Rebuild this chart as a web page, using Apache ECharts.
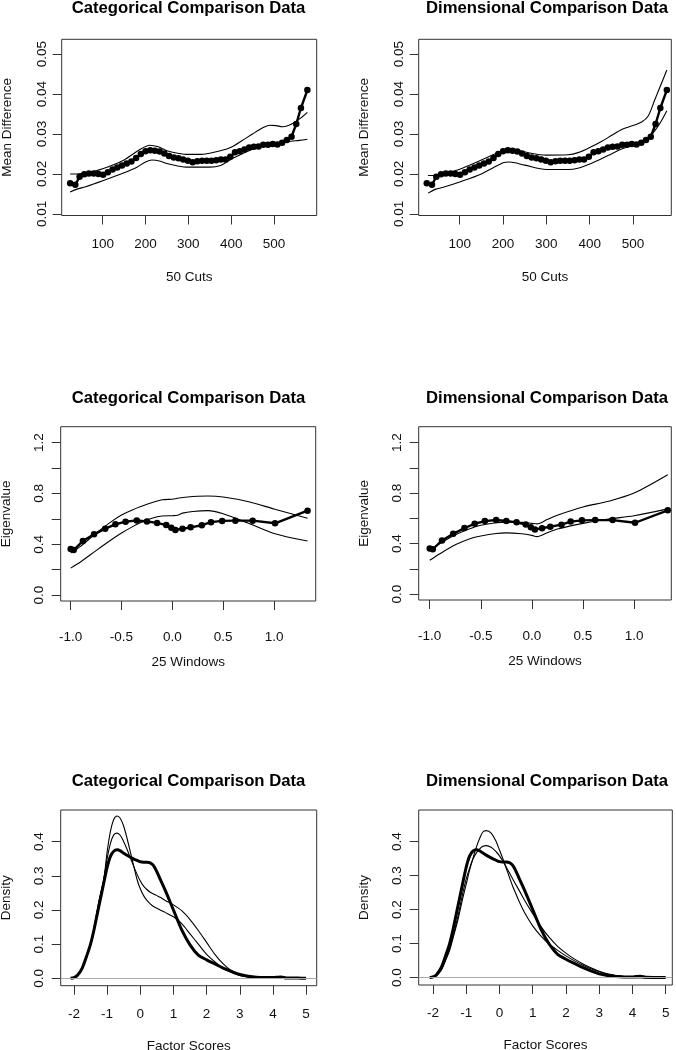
<!DOCTYPE html>
<html><head><meta charset="utf-8">
<script src="https://cdn.jsdelivr.net/npm/echarts@6/dist/echarts.min.js"></script>
<style>html,body{margin:0;padding:0;background:#fff}#c{width:676px;height:1050px}</style>
</head><body><div id="c"></div>
<script>
// ---------- Row 1: 50 Cuts / Mean Difference ----------
const cutX = [24,36,46,57,68,79,90,101,112,123,134,145,156,167,178,189,200,211,222,233,244,255,266,277,288,299,310,321,332,343,354,365,376,387,398,409,420,431,442,453,464,475,486,497,508,519,530,541,552,563,578];
const cutObs = [0.0177,0.0173,0.0193,0.0199,0.0201,0.0201,0.0200,0.0198,0.0204,0.0211,0.0216,0.0221,0.0226,0.0231,0.0240,0.0250,0.0257,0.0259,0.0258,0.0256,0.0251,0.0245,0.0241,0.0239,0.0236,0.0233,0.0229,0.0232,0.0233,0.0233,0.0233,0.0234,0.0236,0.0236,0.0243,0.0254,0.0257,0.0261,0.0266,0.0268,0.0269,0.0273,0.0273,0.0275,0.0274,0.0278,0.0285,0.0293,0.0325,0.0365,0.0410];
const catCutUpX = [24,40,60,100,150,185,210,230,250,275,300,325,350,375,400,425,450,475,490,505,520,535,550,565,578];
const catCutUp  = [0.0200,0.0200,0.0202,0.0213,0.0235,0.0260,0.0272,0.0268,0.0258,0.0252,0.0249,0.0249,0.0252,0.0258,0.0267,0.0283,0.0300,0.0316,0.0322,0.0321,0.0318,0.0322,0.0330,0.0342,0.0354];
const catCutLoX = [24,40,60,100,150,180,200,215,235,250,275,300,325,350,375,400,425,450,475,500,520,540,560,578];
const catCutLo  = [0.0155,0.0162,0.0168,0.0183,0.0203,0.0217,0.0230,0.0235,0.0232,0.0226,0.0220,0.0217,0.0217,0.0217,0.0221,0.0237,0.0250,0.0262,0.0270,0.0275,0.0279,0.0282,0.0284,0.0287];
const dimCutUpX = [27,45,60,100,150,200,220,250,300,350,375,400,425,450,475,500,520,535,550,565,578];
const dimCutUp  = [0.0196,0.0196,0.0200,0.0212,0.0235,0.0258,0.0262,0.0255,0.0247,0.0248,0.0254,0.0266,0.0280,0.0296,0.0312,0.0321,0.0330,0.0345,0.0385,0.0425,0.0460];
const dimCutLoX = [27,45,60,100,150,200,215,250,300,350,375,400,425,450,475,500,520,535,550,565,578];
const dimCutLo  = [0.0152,0.0162,0.0166,0.0180,0.0200,0.0228,0.0230,0.0222,0.0211,0.0211,0.0215,0.0225,0.0237,0.0250,0.0263,0.0272,0.0276,0.0290,0.0308,0.0332,0.0358];
const cutTicks = [100,200,300,400,500];
const cutTickLabels = ['100','200','300','400','500'];
const mdTicks = [0.01,0.02,0.03,0.04,0.05];
const mdTickLabels = ['0.01','0.02','0.03','0.04','0.05'];

// ---------- Row 2: 25 Windows / Eigenvalue ----------
const winX = [-1.00,-0.97,-0.88,-0.77,-0.66,-0.56,-0.46,-0.35,-0.25,-0.15,-0.06,-0.01,0.03,0.10,0.18,0.29,0.38,0.49,0.62,0.79,1.01,1.33];
const winObs = [0.362,0.355,0.425,0.478,0.523,0.557,0.578,0.587,0.579,0.568,0.551,0.530,0.512,0.522,0.533,0.550,0.574,0.584,0.586,0.586,0.565,0.664];
const catWinUpX = [-1.0,-0.9,-0.75,-0.6,-0.5,-0.4,-0.25,-0.1,0.0,0.05,0.15,0.25,0.35,0.5,0.75,1.0,1.33];
const catWinUp  = [0.330,0.385,0.487,0.578,0.630,0.668,0.715,0.750,0.755,0.762,0.772,0.778,0.780,0.772,0.735,0.678,0.605];
const catWinLoX = [-1.0,-0.9,-0.75,-0.6,-0.5,-0.4,-0.3,-0.2,-0.1,0.0,0.05,0.1,0.2,0.35,0.5,0.75,1.0,1.33];
const catWinLo  = [0.212,0.262,0.350,0.435,0.488,0.535,0.575,0.605,0.622,0.625,0.628,0.645,0.658,0.665,0.640,0.565,0.485,0.425];
const dimWinUpX = [-1.0,-0.9,-0.75,-0.6,-0.5,-0.35,-0.25,-0.1,0.0,0.05,0.15,0.25,0.5,0.75,1.0,1.33];
const dimWinUp  = [0.345,0.400,0.470,0.520,0.545,0.565,0.570,0.568,0.560,0.556,0.590,0.625,0.690,0.735,0.800,0.945];
const dimWinLoX = [-1.0,-0.9,-0.75,-0.6,-0.5,-0.35,-0.25,-0.1,0.0,0.05,0.15,0.25,0.5,0.75,1.0,1.33];
const dimWinLo  = [0.268,0.320,0.390,0.440,0.460,0.480,0.485,0.478,0.465,0.455,0.485,0.515,0.560,0.595,0.620,0.675];
const winTicks = [-1.0,-0.5,0.0,0.5,1.0];
const winTickLabels = ['-1.0','-0.5','0.0','0.5','1.0'];
const eigTicks = [0.0,0.2,0.4,0.6,0.8,1.0,1.2];
const eigLabelTicks = [0.0,0.4,0.8,1.2];
const eigTickLabels = ['0.0','0.4','0.8','1.2'];

// ---------- Row 3: Factor Scores / Density ----------
const densX = [-2.1,-2.0,-1.9,-1.75,-1.6,-1.5,-1.4,-1.25,-1.1,-1.0,-0.9,-0.8,-0.7,-0.6,-0.5,-0.4,-0.25,-0.1,0,0.1,0.2,0.3,0.4,0.5,0.6,0.75,1.0,1.25,1.5,1.75,2.0,2.25,2.5,2.75,3.0,3.25,3.5,3.75,4.0,4.1,4.25,4.4,4.75,5.0];
const densObs = [0,0.002,0.008,0.03,0.07,0.1,0.14,0.21,0.28,0.325,0.357,0.372,0.376,0.373,0.366,0.36,0.352,0.345,0.341,0.340,0.340,0.338,0.330,0.312,0.290,0.258,0.200,0.142,0.098,0.068,0.054,0.042,0.030,0.020,0.011,0.006,0.003,0.002,0.002,0.003,0.004,0.001,0.0005,0];
const catDensA = [0,0.002,0.008,0.03,0.068,0.1,0.145,0.225,0.29,0.37,0.43,0.465,0.475,0.468,0.445,0.41,0.35,0.29,0.262,0.242,0.228,0.218,0.21,0.205,0.2,0.193,0.18,0.16,0.13,0.1,0.07,0.048,0.03,0.017,0.008,0.004,0.002,0.001,0,0,0,0,0,0];
const catDensB = [0,0.002,0.008,0.03,0.068,0.1,0.145,0.22,0.29,0.35,0.395,0.42,0.425,0.418,0.4,0.378,0.34,0.305,0.285,0.27,0.26,0.252,0.247,0.242,0.237,0.228,0.215,0.198,0.172,0.14,0.105,0.07,0.042,0.022,0.011,0.005,0.002,0.001,0,0,0,0,0,0];
const dimDensA = [0,0.001,0.006,0.022,0.055,0.08,0.115,0.17,0.235,0.275,0.315,0.35,0.382,0.408,0.428,0.432,0.425,0.4,0.375,0.35,0.322,0.295,0.268,0.245,0.222,0.192,0.152,0.122,0.098,0.08,0.064,0.05,0.037,0.026,0.017,0.01,0.006,0.003,0.001,0,0,0,0,0];
const dimDensB = [0,0.001,0.006,0.024,0.058,0.085,0.12,0.18,0.25,0.29,0.322,0.348,0.366,0.378,0.386,0.388,0.383,0.37,0.358,0.343,0.326,0.308,0.29,0.272,0.255,0.228,0.188,0.15,0.118,0.092,0.072,0.055,0.041,0.029,0.019,0.011,0.006,0.003,0.001,0,0,0,0,0];
const fsTicks = [-2,-1,0,1,2,3,4,5];
const fsTickLabels = ['-2','-1','0','1','2','3','4','5'];
const densTicks = [0.0,0.1,0.2,0.3,0.4];
const densTickLabels = ['0.0','0.1','0.2','0.3','0.4'];

const titles = ['Categorical Comparison Data','Dimensional Comparison Data'];

// ---------- layout ----------
const FONT = "'Liberation Sans', Arial, Helvetica, sans-serif";
const FS = 13.5;
const grids = [
  {left:61.7, top:39.3, width:255, height:176.2},
  {left:418.7, top:39.3, width:252.6, height:176.2},
  {left:60.7, top:426.7, width:255, height:174.3},
  {left:418.7, top:426.7, width:252.6, height:173.3},
  {left:60.7, top:810, width:256, height:175.7},
  {left:418.7, top:810, width:253.6, height:175}
];
const xRanges = [[4.2,599.8],[5.4,588.3],[-1.098,1.41],[-1.108,1.365],[-2.40,5.32],[-2.43,5.2]];
const yRanges = [[0.0096,0.0537],[0.0096,0.0537],[-0.047,1.326],[-0.047,1.326],[-0.0217,0.4927],[-0.0217,0.4927]];
const rowX = [
  {ticks:cutTicks, labels:cutTickLabels, name:'50 Cuts', margin:21.5, gap:55},
  {ticks:winTicks, labels:winTickLabels, name:'25 Windows', margin:29, gap:54.5},
  {ticks:fsTicks, labels:fsTickLabels, name:'Factor Scores', margin:21.5, gap:53.5}
];
const rowY = [
  {ticks:mdTicks, lticks:mdTicks, labels:mdTickLabels, name:'Mean Difference', margin:12.5},
  {ticks:eigTicks, lticks:eigLabelTicks, labels:eigTickLabels, name:'Eigenvalue', margin:14},
  {ticks:densTicks, lticks:densTicks, labels:densTickLabels, name:'Density', margin:14}
];
const titleY = [8.5, 398, 781];
const titleX = [188.5, 547];

function lookup(ticks, labels){
  return function(v){ for (let i=0;i<ticks.length;i++){ if (Math.abs(ticks[i]-v)<1e-9) return labels[i]; } return ''; };
}
function pairs(xs, ys){ return xs.map((x,i)=>[x, ys[i]]); }

const option = {
  animation:false,
  backgroundColor:'#fff',
  grid: grids.map(g => Object.assign({show:true, borderColor:'#333', borderWidth:1, backgroundColor:'transparent', containLabel:false, outerBoundsMode:'none'}, g)),
  xAxis: grids.map((g,i) => {
    const r = rowX[Math.floor(i/2)];
    return {
      type:'value', gridIndex:i, min:xRanges[i][0], max:xRanges[i][1], position:'bottom',
      axisLine:{show:false, onZero:false}, splitLine:{show:false},
      axisTick:{show:true, inside:false, length:9, lineStyle:{color:'#333', width:1}, customValues:r.ticks},
      axisLabel:{show:true, margin:r.margin, fontFamily:FONT, fontSize:FS, color:'#111', customValues:r.ticks, formatter:lookup(r.ticks, r.labels)},
      name:r.name, nameLocation:'middle', nameGap:r.gap,
      nameTextStyle:{fontFamily:FONT, fontSize:FS, color:'#111'}
    };
  }),
  yAxis: grids.map((g,i) => {
    const r = rowY[Math.floor(i/2)];
    return {
      type:'value', gridIndex:i, min:yRanges[i][0], max:yRanges[i][1], position:'left',
      axisLine:{show:false, onZero:false}, splitLine:{show:false},
      axisTick:{show:true, inside:false, length:9, lineStyle:{color:'#333', width:1}, customValues:r.ticks},
      axisLabel:{show:true, rotate:90, margin:r.margin, fontFamily:FONT, fontSize:FS, color:'#111', customValues:r.lticks, formatter:lookup(r.lticks, r.labels)},
      name:r.name, nameLocation:'middle', nameRotate:90, nameGap:47.5,
      nameTextStyle:{fontFamily:FONT, fontSize:FS, color:'#111'}
    };
  }),
  graphic: [0,1,2].flatMap(row => [0,1].map(col => ({
    type:'text', x:titleX[col], y:titleY[row], silent:true,
    style:{text:titles[col], font:'bold 16.7px ' + FONT, fill:'#000', align:'center', verticalAlign:'middle'}
  }))),
  series: []
};

function thin(idx, data){
  return {type:'line', xAxisIndex:idx, yAxisIndex:idx, data:data, showSymbol:false, symbol:'none', smooth:0.3,
    lineStyle:{color:'#000', width:1.1}, silent:true, z:2};
}
function obsDots(idx, data){
  return {type:'line', xAxisIndex:idx, yAxisIndex:idx, data:data, symbol:'circle', symbolSize:6.5, showSymbol:true,
    itemStyle:{color:'#000'}, lineStyle:{color:'#000', width:2.4}, silent:true, z:3};
}
function obsDens(idx, data){
  return {type:'line', xAxisIndex:idx, yAxisIndex:idx, data:data, symbol:'none', showSymbol:false, smooth:0.3,
    lineStyle:{color:'#000', width:3}, silent:true, z:3,
    markLine:{silent:true, symbol:['none','none'], label:{show:false}, lineStyle:{color:'#aaa', width:1, type:'solid'}, data:[{yAxis:0}]}};
}

option.series.push(
  thin(0, pairs(catCutUpX, catCutUp)), thin(0, pairs(catCutLoX, catCutLo)), obsDots(0, pairs(cutX, cutObs)),
  thin(1, pairs(dimCutUpX, dimCutUp)), thin(1, pairs(dimCutLoX, dimCutLo)), obsDots(1, pairs(cutX, cutObs)),
  thin(2, pairs(catWinUpX, catWinUp)), thin(2, pairs(catWinLoX, catWinLo)), obsDots(2, pairs(winX, winObs)),
  thin(3, pairs(dimWinUpX, dimWinUp)), thin(3, pairs(dimWinLoX, dimWinLo)), obsDots(3, pairs(winX, winObs)),
  thin(4, pairs(densX, catDensA)), thin(4, pairs(densX, catDensB)), obsDens(4, pairs(densX, densObs)),
  thin(5, pairs(densX, dimDensA)), thin(5, pairs(densX, dimDensB)), obsDens(5, pairs(densX, densObs))
);

const chart = echarts.init(document.getElementById('c'), null, {renderer:'canvas'});
chart.setOption(option);
</script></body></html>
